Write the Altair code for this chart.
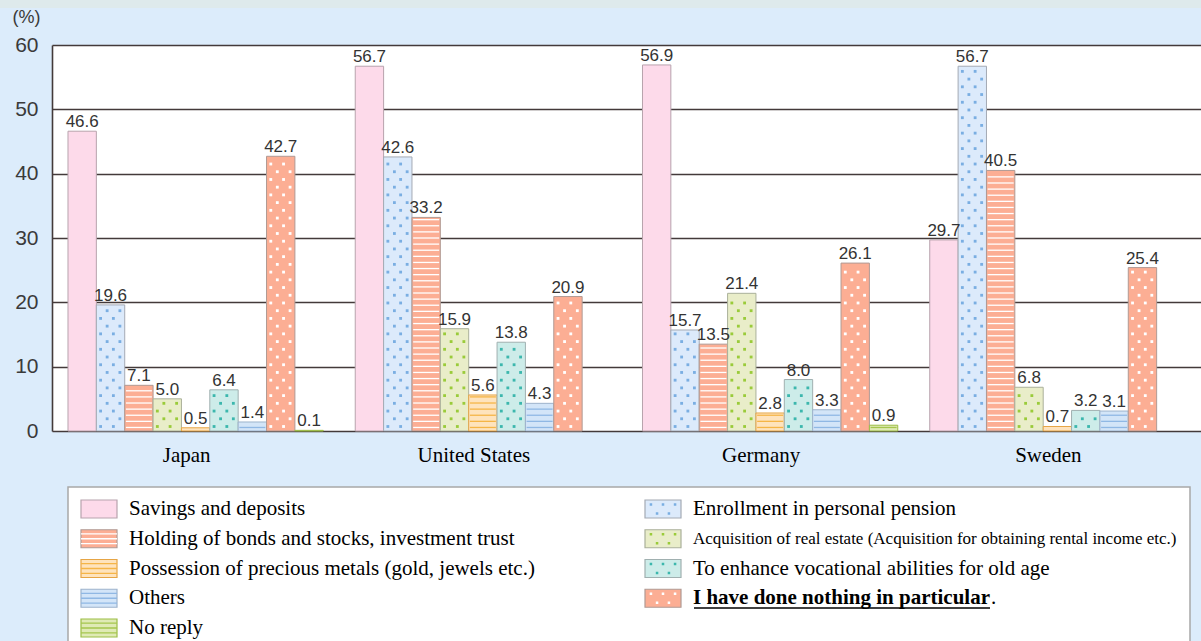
import altair as alt
import pandas as pd

# ---------------- data ----------------
countries = ["Japan", "United States", "Germany", "Sweden"]
categories = [
    "Savings and deposits",
    "Enrollment in personal pension",
    "Holding of bonds and stocks, investment trust",
    "Acquisition of real estate (Acquisition for obtaining rental income etc.)",
    "Possession of precious metals (gold, jewels etc.)",
    "To enhance vocational abilities for old age",
    "Others",
    "I have done nothing in particular",
    "No reply",
]
japan = [46.6, 19.6, 7.1, 5.0, 0.5, 6.4, 1.4, 42.7, 0.1]
united_states = [56.7, 42.6, 33.2, 15.9, 5.6, 13.8, 4.3, 20.9, None]
germany = [56.9, 15.7, 13.5, 21.4, 2.8, 8.0, 3.3, 26.1, 0.9]
sweden = [29.7, 56.7, 40.5, 6.8, 0.7, 3.2, 3.1, 25.4, None]
y_ticks = [0, 10, 20, 30, 40, 50, 60]

series = {"Japan": japan, "United States": united_states, "Germany": germany, "Sweden": sweden}

# ---------------- styles ----------------
fill_colors = ["#fddaea", "#dceafb", "#fcae94", "#e9edc9", "#fee3bd", "#cdece9", "#d3e5f8", "#fcae94", "#dfeab5"]
stroke_colors = ["#b8a3ad", "#a4aab4", "#b09a94", "#aab09a", "#e6a545", "#a0b0b0", "#9db3cc", "#b09a94", "#9cbd45"]
pattern_kinds = ["none", "dots", "stripes", "dots", "stripes", "dots", "stripes", "dots", "stripes"]
pattern_colors = ["#fddaea", "#7aaee2", "#ffffff", "#9acb3a", "#f5b547", "#3cb7ad", "#90b8e4", "#ffffff", "#a5c64e"]
PAD = 0.564

bar_rows = []
for c in countries:
    for i, (cat, v) in enumerate(zip(categories, series[c])):
        if v is None:
            continue
        bar_rows.append(dict(country=c, category=cat, idx=i, pos=i + 0.5, value=v,
                             fill=fill_colors[i], stroke=stroke_colors[i]))
bars_df = pd.DataFrame(bar_rows)

stripe_rows, dot_rows = [], []
for r in bar_rows:
    i, v = r["idx"], r["value"]
    if pattern_kinds[i] == "stripes":
        y = 0.55
        while y < v - 0.25:
            stripe_rows.append(dict(country=r["country"], pos=i + 0.5, y=y, pcolor=pattern_colors[i]))
            y += 0.95
    elif pattern_kinds[i] == "dots":
        k, y = 0, 0.7
        while y < v - 0.45:
            fracs = [0.15, 0.6] if k % 2 == 0 else [0.38, 0.83]
            for f in fracs:
                dot_rows.append(dict(country=r["country"], pos=i + f, y=y, pcolor=pattern_colors[i]))
            k += 1
            y += 1.2
stripes_df = pd.DataFrame(stripe_rows)
dots_df = pd.DataFrame(dot_rows)

leg_df = pd.DataFrame(dict(
    category=categories,
    idx=list(range(len(categories))),
    col=[i % 2 for i in range(len(categories))],
    row=[i // 2 for i in range(len(categories))],
    fill=fill_colors, stroke=stroke_colors, pcolor=pattern_colors, kind=pattern_kinds,
))

# ---------------- scales ----------------
x_enc = alt.X("country:N", sort=countries,
              scale=alt.Scale(domain=countries, paddingInner=0, paddingOuter=0),
              axis=alt.Axis(title=None, labelAngle=0, ticks=False, domain=False,
                            labelFont="Liberation Serif", labelFontSize=21, labelColor="#000000",
                            labelPadding=13, labelOffset=-9))
xoff_nom = alt.XOffset("category:N", sort=categories,
                       scale=alt.Scale(domain=categories, paddingInner=0, paddingOuter=PAD))
xoff_q = alt.XOffset("pos:Q", scale=alt.Scale(domain=[-PAD, len(categories) + PAD], nice=False, zero=False))
y_scale = alt.Scale(domain=[0, 60], nice=False)
y_axis = alt.Axis(values=y_ticks, grid=True, gridColor="#433a3a", gridWidth=1.6,
                  domain=True, domainColor="#433a3a", domainWidth=1.6, ticks=False,
                  labelFont="Liberation Sans", labelFontSize=21, labelColor="#3a3a3a", labelPadding=14,
                  title="(%)", titleAngle=0, titleX=-26, titleY=-28, titleAlign="center",
                  titleBaseline="middle", titleFont="Liberation Sans", titleFontSize=18,
                  titleFontWeight="normal", titleColor="#3a3a3a")

bars = alt.Chart(bars_df).mark_bar(strokeWidth=1).encode(
    x=x_enc, xOffset=xoff_nom,
    y=alt.Y("value:Q", scale=y_scale, axis=y_axis),
    fill=alt.Fill("fill:N", scale=None),
    stroke=alt.Stroke("stroke:N", scale=None),
)
labels = alt.Chart(bars_df).mark_text(baseline="alphabetic", dy=-4, font="Liberation Sans",
                                      fontSize=17, color="#333333").encode(
    x=x_enc, xOffset=xoff_q,
    y=alt.Y("value:Q", scale=y_scale, axis=y_axis),
    text=alt.Text("value:Q", format=".1f"),
)
stripes = alt.Chart(stripes_df).mark_tick(orient="horizontal", size=26, thickness=1.3, opacity=1).encode(
    x=x_enc, xOffset=xoff_q,
    y=alt.Y("y:Q", scale=y_scale, axis=y_axis),
    color=alt.Color("pcolor:N", scale=None),
)
dots = alt.Chart(dots_df).mark_square(size=8, opacity=1).encode(
    x=x_enc, xOffset=xoff_q,
    y=alt.Y("y:Q", scale=y_scale, axis=y_axis),
    color=alt.Color("pcolor:N", scale=None),
)
main = alt.layer(bars, stripes, dots, labels).resolve_scale(xOffset="independent")

# ---------------- decorations ----------------
one = pd.DataFrame({"a": [0]})
top_strip = alt.Chart(one).mark_rect(color="#deeaec").encode(
    x=alt.value(-52), x2=alt.value(1149), y=alt.value(-45), y2=alt.value(-37))
legend_box = alt.Chart(one).mark_rect(fill="#ffffff", stroke="#a8a8a8", strokeWidth=1.5).encode(
    x=alt.value(16), x2=alt.value(1138), y=alt.value(442), y2=alt.value(700))

legX = alt.X("col:O", scale=alt.Scale(type="point", domain=[0, 1], range=[47, 611], padding=0), axis=None)
legY = alt.Y("row:O", scale=alt.Scale(type="point", domain=[0, 1, 2, 3, 4], range=[464, 583], padding=0), axis=None)

rect_path = "M-1,-0.5L1,-0.5L1,0.5L-1,0.5Z"
stripe_path = "M-1,-0.27L1,-0.27M-1,0L1,0M-1,0.27L1,0.27"
dot_pts = [(-0.67, -0.25), (0, -0.25), (0.67, -0.25), (-0.33, 0.25), (0.33, 0.25)]
d = 0.07
dot_path = "".join(f"M{x-d:.3f},{y-d:.3f}L{x+d:.3f},{y-d:.3f}L{x+d:.3f},{y+d:.3f}L{x-d:.3f},{y+d:.3f}Z" for x, y in dot_pts)

leg_base = alt.Chart(leg_df)
sw = leg_base.mark_point(shape=rect_path, size=1296, filled=True, opacity=1, strokeWidth=1.2).encode(
    x=legX, y=legY, fill=alt.Fill("fill:N", scale=None), stroke=alt.Stroke("stroke:N", scale=None))
sw_str = leg_base.transform_filter(alt.datum.kind == "stripes").mark_point(
    shape=stripe_path, size=1296, filled=False, opacity=1, strokeWidth=1.3).encode(
    x=legX, y=legY, stroke=alt.Stroke("pcolor:N", scale=None))
sw_dot = leg_base.transform_filter(alt.datum.kind == "dots").mark_point(
    shape=dot_path, size=1296, filled=True, opacity=1, strokeWidth=0).encode(
    x=legX, y=legY, fill=alt.Fill("pcolor:N", scale=None))
txt_common = dict(align="left", baseline="middle", dx=30, font="Liberation Serif", color="#000000")
txt = leg_base.transform_filter((alt.datum.idx != 3) & (alt.datum.idx != 7)).mark_text(
    fontSize=21, **txt_common).encode(x=legX, y=legY, text="category:N")
txt_small = leg_base.transform_filter(alt.datum.idx == 3).mark_text(
    fontSize=17, **txt_common).encode(x=legX, y=legY, text="category:N")
txt_bold = leg_base.transform_filter(alt.datum.idx == 7).mark_text(
    fontSize=21, fontWeight="bold", **txt_common).encode(x=legX, y=legY, text="category:N")
underline = alt.Chart(one).mark_rule(color="#000000", strokeWidth=1.5).encode(
    x=alt.value(642), x2=alt.value(938), y=alt.value(563))
period = alt.Chart(one).mark_text(text=".", align="left", baseline="middle", font="Liberation Serif",
                                  fontSize=21, color="#000000").encode(
    x=alt.value(939), y=alt.value(553))

chart = alt.layer(
    top_strip, legend_box, main, sw, sw_str, sw_dot, txt, txt_small, txt_bold, underline, period
).resolve_scale(x="independent", y="independent").properties(
    width=1149, height=386,
    padding={"left": 52, "top": 45, "right": 0, "bottom": 210},
    autosize=alt.AutoSizeParams(type="none"),
    background="#dcecfb",
).configure_view(fill="#ffffff", strokeWidth=0)

chart.save("out.html", embed_options={"renderer": "svg", "actions": False})
